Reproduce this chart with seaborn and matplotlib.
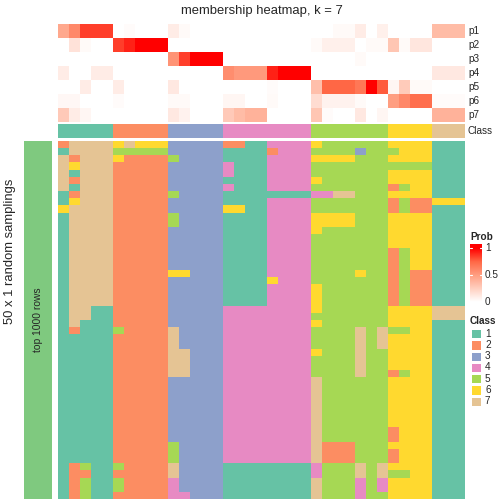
import numpy as np
import matplotlib
matplotlib.use("Agg")
import matplotlib.pyplot as plt
import seaborn as sns
from matplotlib.colors import ListedColormap, LinearSegmentedColormap

# membership probabilities per sample (37 samples), rows p1..p7
p1 = [0.45, 0.6, 0.85, 0.85, 0.85, 0, 0.02, 0, 0, 0, 0.1, 0.03, 0, 0, 0,
      0, 0, 0, 0, 0, 0, 0, 0, 0, 0, 0.03, 0.03, 0.1, 0, 0.08, 0, 0, 0, 0, 0.35, 0.35, 0.35]
p2 = [0, 0.15, 0.03, 0, 0, 0.85, 0.92, 1, 1, 1, 0, 0, 0, 0, 0,
      0, 0, 0, 0, 0, 0, 0, 0, 0.03, 0.08, 0.08, 0.08, 0, 0.03, 0.03, 0.3, 0.03, 0.13, 0.13, 0, 0, 0]
p3 = [0, 0, 0, 0, 0, 0, 0, 0, 0, 0, 0.55, 0.85, 1, 1, 1,
      0, 0, 0, 0, 0, 0, 0, 0, 0, 0, 0, 0, 0.03, 0, 0, 0, 0, 0, 0, 0, 0, 0]
p4 = [0.1, 0, 0, 0.1, 0.1, 0, 0, 0, 0, 0, 0, 0, 0, 0, 0,
      0.58, 0.52, 0.52, 0.52, 0.92, 1, 1, 1, 0, 0, 0, 0, 0, 0, 0, 0, 0, 0, 0, 0.12, 0.12, 0.12]
p5 = [0, 0, 0.1, 0, 0, 0.1, 0, 0, 0, 0, 0.12, 0, 0, 0, 0,
      0, 0, 0, 0, 0.02, 0, 0, 0, 0.33, 0.75, 0.75, 0.75, 0.68, 1, 0.78, 0.05, 0.27, 0.03, 0.03, 0, 0, 0]
p6 = [0.04, 0.04, 0, 0, 0, 0.02, 0, 0, 0, 0, 0.03, 0.03, 0, 0, 0,
      0.05, 0.05, 0, 0, 0.03, 0, 0, 0, 0.18, 0.07, 0.07, 0.07, 0.03, 0, 0, 0.5, 0.6, 0.72, 0.72, 0.02, 0.02, 0.02]
p7 = [0.28, 0.1, 0.05, 0, 0, 0, 0, 0, 0, 0, 0.12, 0.07, 0, 0, 0,
      0.28, 0.35, 0.4, 0.4, 0, 0, 0, 0, 0.3, 0.02, 0, 0, 0.12, 0, 0.05, 0, 0, 0, 0, 0.4, 0.4, 0.4]
prob_labels = ["p1", "p2", "p3", "p4", "p5", "p6", "p7"]

# consensus class of each sample
sample_class = [1] * 5 + [2] * 5 + [3] * 5 + [4] * 8 + [5] * 7 + [6] * 4 + [7] * 3

# class assignment in each of the 50 random samplings (one string per sampling)
samplings = [
    "27777" "67666" "33333" "22114444" "6555555" "6666" "111",
    "17777" "55555" "33333" "11112444" "5555355" "5666" "111",
    "72777" "62222" "53333" "11114444" "6666555" "6666" "111",
    "76777" "22222" "33333" "41114444" "5555555" "5555" "111",
    "71777" "22222" "33333" "41114444" "5555555" "6666" "111",
    "72777" "22222" "33333" "11114444" "6555555" "6666" "111",
    "71777" "22222" "33333" "41114444" "5555555" "2566" "111",
    "12777" "22222" "53333" "11111111" "4477555" "6666" "111",
    "16777" "22222" "33333" "11114444" "5555555" "2522" "666",
    "67777" "22222" "33333" "66114444" "5555555" "2522" "111",
    "17777" "22222" "53333" "11114444" "6666555" "6666" "111",
    "17777" "22222" "53333" "11114444" "6666555" "6666" "111",
    "17777" "22222" "33333" "11114444" "6555555" "6666" "111",
    "17777" "22222" "33333" "11114444" "5555555" "6666" "111",
    "17777" "22222" "33333" "11114444" "5555555" "6666" "111",
    "17777" "22222" "33333" "11114444" "5555555" "2566" "111",
    "17777" "22222" "33333" "11114444" "5555555" "2566" "111",
    "17777" "22222" "33333" "11114444" "5555555" "2566" "111",
    "17777" "22222" "66333" "11114444" "5555655" "2522" "111",
    "17777" "22222" "33333" "11116444" "5555555" "2522" "111",
    "17777" "22222" "33333" "11114444" "6555555" "2522" "111",
    "17777" "22222" "33333" "11114444" "6555555" "2522" "111",
    "17777" "22222" "33333" "11114444" "6555555" "2522" "111",
    "17711" "22222" "33333" "44444444" "6555555" "6666" "777",
    "17711" "22222" "33333" "44444444" "5555555" "6666" "777",
    "17111" "22222" "33333" "44444444" "6555555" "6666" "111",
    "12111" "52222" "73333" "44444444" "5555757" "5566" "111",
    "11111" "22222" "73333" "44444444" "5555757" "6666" "111",
    "11111" "22222" "73333" "44444444" "5555757" "6666" "111",
    "11111" "22222" "77333" "44444444" "6555755" "6666" "111",
    "11111" "22222" "77333" "44444444" "5555755" "6666" "111",
    "11111" "22222" "77333" "44444444" "5555755" "6666" "111",
    "11111" "22222" "77333" "44444444" "5555755" "2566" "111",
    "11111" "22222" "33333" "44444444" "7555555" "6666" "111",
    "11111" "22222" "33333" "44444444" "7555555" "6666" "111",
    "11111" "22222" "33333" "44444444" "7555555" "6666" "111",
    "11111" "22222" "33333" "44444444" "7555555" "6666" "111",
    "11111" "22222" "33333" "44444444" "7555555" "6666" "111",
    "11111" "22222" "33333" "44444444" "7555555" "6666" "111",
    "11111" "22222" "33333" "44444444" "7555555" "6666" "111",
    "11111" "22222" "33333" "44444444" "7555555" "2666" "111",
    "11111" "22222" "33333" "44444444" "7555555" "2666" "111",
    "11111" "22222" "53333" "44444444" "7222555" "6666" "111",
    "11111" "22222" "53333" "44444444" "7222555" "2666" "111",
    "11111" "22222" "53333" "44444444" "7222555" "2666" "111",
    "12511" "52222" "73333" "11111111" "4555757" "6666" "111",
    "12211" "22222" "73333" "11111111" "4555757" "5566" "111",
    "12511" "52222" "43333" "11111111" "7555454" "6666" "111",
    "12511" "52222" "43333" "11111111" "7555454" "6666" "111",
    "12511" "22222" "44333" "11111111" "7555455" "6666" "111",
]
class_levels = ["1", "2", "3", "4", "5", "6", "7"]

W = H = 504
sns.set_style("white")
plt.rcParams["font.family"] = ["Liberation Sans", "DejaVu Sans"]

class_cmap = ListedColormap(sns.color_palette("Set2", 7))
# white -> red ramp (roughly what a LAB interpolation gives)
prob_cmap = LinearSegmentedColormap.from_list(
    "prob", ["#FFFFFF", "#FFCFBF", "#FF9E81", "#FF6846", "#FF0000"])


def px_axes(fig, x0, y0, x1, y1):
    # axes from pixel box (origin top left)
    return fig.add_axes([x0 / W, 1 - y1 / H, (x1 - x0) / W, (y1 - y0) / H])


fig = plt.figure(figsize=(W / 100, H / 100), dpi=100)

# top annotation: membership probabilities
prob_mat = np.array([p1, p2, p3, p4, p5, p6, p7])
ax_p = px_axes(fig, 58, 24, 465, 122)
sns.heatmap(prob_mat, ax=ax_p, cmap=prob_cmap, vmin=0, vmax=1, cbar=False,
            xticklabels=False, yticklabels=False)
for i, lab in enumerate(prob_labels):
    fig.text(468 / W, 1 - (31 + 14 * i) / H, lab, ha="left", va="center", fontsize=7.2)

# class annotation row
ax_c = px_axes(fig, 58, 124, 465, 138)
sns.heatmap(np.array([sample_class]), ax=ax_c, cmap=class_cmap, vmin=0.5, vmax=7.5,
            cbar=False, xticklabels=False, yticklabels=False)
fig.text(468 / W, 1 - 131 / H, "Class", ha="left", va="center", fontsize=7.2)

# main body: class of each sample in every sampling
main_mat = np.array([[int(ch) for ch in row] for row in samplings])
ax_m = px_axes(fig, 58, 141, 465, 499)
sns.heatmap(main_mat, ax=ax_m, cmap=class_cmap, vmin=0.5, vmax=7.5, cbar=False,
            xticklabels=False, yticklabels=False)

# left block annotation
ax_b = px_axes(fig, 24, 141, 52, 499)
sns.heatmap(np.zeros((1, 1)), ax=ax_b, cmap=ListedColormap(["#7FC97F"]), cbar=False,
            xticklabels=False, yticklabels=False)
ax_b.text(0.5, 0.5, "top 1000 rows", rotation=90, ha="center", va="center",
          fontsize=7.4, transform=ax_b.transAxes)

fig.text(10 / W, 1 - 251 / H, "50 x 1 random samplings", rotation=90,
         ha="center", va="center", fontsize=9.36)
fig.text(262 / W, 1 - 11 / H, "membership heatmap, k = 7", ha="center", va="center",
         fontsize=9.36)

# legend: Prob
fig.text(470 / W, 1 - 237 / H, "Prob", ha="left", va="center", fontsize=7.2,
         fontweight="bold")
ax_l = px_axes(fig, 470, 244, 482, 302)
grad = np.linspace(0, 58 / 54, 100).reshape(-1, 1)
ax_l.imshow(grad, extent=(0, 1, 0, 58 / 54), origin="lower", aspect="auto",
            cmap=prob_cmap, vmin=0, vmax=1)
for v in [0.5, 1.0]:
    ax_l.plot([0, 0.2], [v, v], color="white", lw=0.8)
    ax_l.plot([0.8, 1], [v, v], color="white", lw=0.8)
ax_l.set_xlim(0, 1)
ax_l.set_ylim(0, 58 / 54)
ax_l.axis("off")
for v, lab in [(1, "1"), (0.5, "0.5"), (0, "0")]:
    fig.text(485 / W, 1 - (302 - 54 * v) / H, lab, ha="left", va="center", fontsize=7.2)

# legend: Class
fig.text(470 / W, 1 - 321 / H, "Class", ha="left", va="center", fontsize=7.2,
         fontweight="bold")
ax_k = px_axes(fig, 470, 328, 482, 407)
sns.heatmap(np.arange(1, 8).reshape(-1, 1), ax=ax_k, cmap=class_cmap, vmin=0.5,
            vmax=7.5, cbar=False, xticklabels=False, yticklabels=False,
            linewidths=1, linecolor="white")
step = (407 - 328) / 7
for i, lab in enumerate(class_levels):
    fig.text(485 / W, 1 - (328 + step * (i + 0.5)) / H, lab, ha="left", va="center",
             fontsize=7.2)

fig.savefig("out.png", dpi=100)
